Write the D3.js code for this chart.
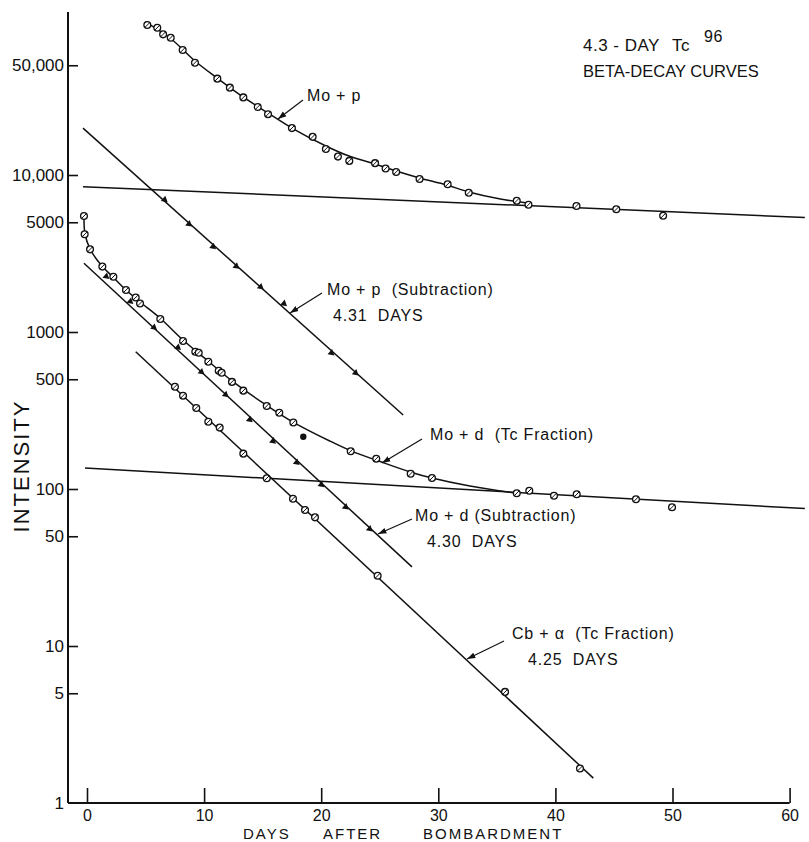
<!DOCTYPE html>
<html>
<head>
<meta charset="utf-8">
<script src="https://cdn.jsdelivr.net/npm/d3@7"></script>
<style>
  body { margin: 0; background: #fff; }
  svg { display: block; }
  text { font-family: "Liberation Sans", "DejaVu Sans", sans-serif; fill: #111; }
</style>
</head>
<body>
<div id="chart"></div>
<script>
// ---- data (days after bombardment, intensity) ----
const yTickValues = [1, 5, 10, 50, 100, 500, 1000, 5000, 10000, 50000];
const yTickLabels = ['1', '5', '10', '50', '100', '500', '1000', '5000', '10,000', '50,000'];
const xTickValues = [0, 10, 20, 30, 40, 50, 60];

// Mo + p (total)
const moPDays = [5.15, 6.0, 6.5, 7.15, 8.17, 9.22, 11.13, 12.2, 13.35, 14.58, 15.46, 17.5, 19.27, 20.4, 21.43, 22.4, 24.6, 25.5, 26.4, 28.4, 30.8, 32.6, 36.7, 37.7, 41.8, 45.2, 49.2];
const moPVals = [90200, 86700, 78700, 74900, 62500, 51900, 41100, 36000, 31200, 27100, 24400, 19900, 17500, 14650, 13100, 12300, 11900, 11000, 10450, 9430, 8730, 7710, 6860, 6470, 6350, 6050, 5500];
const moPCurveDays = [4.95, 7.09, 9.22, 11.1, 13.32, 15.46, 17.5, 20.4, 22.37, 24.6, 26.4, 28.4, 30.7, 32.6, 35.3, 37.6];
const moPCurveVals = [94400, 74600, 53200, 41500, 31400, 24800, 19900, 15300, 13200, 11750, 10600, 9570, 8640, 7800, 7030, 6630];
const moPLongDays = [-0.34, 61.3];
const moPLongVals = [8420, 5360];

// Mo + p (subtraction) 4.31 days
const moPSubLineDays = [-0.34, 27.0];
const moPSubLineVals = [19900, 296];
const moPSubDays = [6.66, 8.74, 10.79, 12.78, 14.86, 16.85, 20.9, 22.97];
const moPSubVals = [6930, 4850, 3480, 2610, 1930, 1510, 732, 546];

// Mo + d (Tc fraction)
const moDDays = [-0.26, -0.2, 0.26, 1.31, 2.25, 3.33, 4.16, 4.53, 6.26, 8.2, 9.25, 9.54, 10.36, 11.25, 11.5, 12.38, 13.35, 15.35, 16.42, 17.62, 22.52, 24.7, 27.64, 29.46, 36.7, 37.77, 39.88, 41.82, 46.88, 49.96];
const moDVals = [5480, 4190, 3360, 2610, 2250, 1850, 1660, 1520, 1210, 876, 749, 738, 647, 567, 550, 481, 423, 338, 306, 265, 174, 156, 125, 117.5, 94, 97.5, 90.6, 92.5, 86, 76.5];
const moDOutlierDays = [18.47];
const moDOutlierVals = [215];
const moDCurveDays = [-0.26, -0.17, 0.26, 1.2, 2.22, 3.33, 4.53, 6.23, 8.2, 10.33, 12.38, 15.29, 17.59, 20.75, 22.55, 25.1, 27.67, 29.46, 32.7, 36.6];
const moDCurveVals = [5480, 4210, 3380, 2670, 2240, 1852, 1553, 1228, 889, 654, 488, 343, 267, 202, 175, 149, 128, 117.5, 104.5, 94.3];
const moDLongDays = [-0.17, 61.3];
const moDLongVals = [136, 75];

// Mo + d (subtraction) 4.30 days
const moDSubLineDays = [-0.26, 27.75];
const moDSubLineVals = [2740, 31.9];
const moDSubDays = [1.68, 3.73, 5.75, 7.8, 9.8, 11.87, 13.92, 15.91, 17.93, 20.04, 22.12, 24.17];
const moDSubVals = [2250, 1560, 1065, 794, 554, 397, 275, 201, 147, 106, 76.4, 55.4];

// Cb + alpha (Tc fraction) 4.25 days
const cbLineDays = [4.16, 43.24];
const cbLineVals = [749, 1.44];
const cbDays = [7.51, 8.2, 9.33, 10.36, 11.33, 13.35, 15.35, 17.59, 18.62, 19.47, 24.82, 35.7, 42.1];
const cbVals = [448, 393, 328, 268, 246, 168, 117, 86.7, 73.5, 66, 28, 5.1, 1.66];

const zip = (a, b) => a.map((d, i) => [d, b[i]]);

// ---- layout ----
const width = 809, height = 842;
const axisX = 68, axisY = 803;

const svg = d3.select('#chart').append('svg')
  .attr('width', width)
  .attr('height', height);

const x = d3.scaleLinear().domain([0, 60]).range([87, 789.6]);
const y = d3.scaleLog().domain([1, 100000]).range([803, 18]);

const ink = '#111';

// axes lines
svg.append('line')
  .attr('x1', axisX).attr('x2', axisX)
  .attr('y1', 12).attr('y2', axisY)
  .attr('stroke', ink).attr('stroke-width', 2);
svg.append('line')
  .attr('x1', axisX).attr('x2', x(60))
  .attr('y1', axisY).attr('y2', axisY)
  .attr('stroke', ink).attr('stroke-width', 2);

const yAxis = svg.append('g')
  .attr('transform', `translate(${axisX},0)`)
  .call(d3.axisLeft(y)
    .tickValues(yTickValues)
    .tickFormat((d, i) => yTickLabels[i])
    .tickSizeInner(-10)
    .tickSizeOuter(0)
    .tickPadding(4));
yAxis.select('.domain').remove();
yAxis.selectAll('.tick line').attr('stroke', ink).attr('stroke-width', 1.6);
yAxis.selectAll('.tick').filter(d => d === 1).select('line').remove();
yAxis.selectAll('.tick text')
  .attr('font-size', 17)
  .attr('font-family', '"Liberation Sans", sans-serif')
  .attr('fill', ink);

const xAxis = svg.append('g')
  .attr('transform', `translate(0,${axisY})`)
  .call(d3.axisBottom(x)
    .tickValues(xTickValues)
    .tickSizeInner(-15)
    .tickSizeOuter(0)
    .tickPadding(7));
xAxis.select('.domain').remove();
xAxis.selectAll('.tick line').attr('stroke', ink).attr('stroke-width', 1.6);
xAxis.selectAll('.tick text')
  .attr('font-size', 16)
  .attr('font-family', '"Liberation Sans", sans-serif')
  .attr('fill', ink);

// axis titles
svg.append('text')
  .attr('transform', 'translate(29,466) rotate(-90)')
  .attr('text-anchor', 'middle')
  .attr('font-size', 22)
  .attr('letter-spacing', 2)
  .text('INTENSITY');

const xTitle = svg.append('text')
  .attr('y', 839)
  .attr('font-size', 15)
  .attr('letter-spacing', 2);
xTitle.append('tspan').attr('x', 243).text('DAYS');
xTitle.append('tspan').attr('x', 323).text('AFTER');
xTitle.append('tspan').attr('x', 423).text('BOMBARDMENT');

// title
const t1 = svg.append('text').attr('y', 51).attr('font-size', 17).attr('letter-spacing', 0.5);
t1.append('tspan').attr('x', 583).text('4.3 - DAY');
t1.append('tspan').attr('x', 672).text('Tc');
t1.append('tspan').attr('x', 704).attr('dy', -9).attr('font-size', 16).text('96');
svg.append('text').attr('x', 583).attr('y', 77).attr('font-size', 16.5)
  .text('BETA-DECAY CURVES');

// ---- lines and curves ----
const straight = d3.line().x(d => x(d[0])).y(d => y(d[1]));
const smooth = d3.line().x(d => x(d[0])).y(d => y(d[1])).curve(d3.curveCatmullRom.alpha(0.5));

const lineData = [
  { pts: zip(moPLongDays, moPLongVals), gen: straight },
  { pts: zip(moPSubLineDays, moPSubLineVals), gen: straight },
  { pts: zip(moPCurveDays, moPCurveVals), gen: smooth },
  { pts: zip(moDLongDays, moDLongVals), gen: straight },
  { pts: zip(moDSubLineDays, moDSubLineVals), gen: straight },
  { pts: zip(moDCurveDays, moDCurveVals), gen: smooth },
  { pts: zip(cbLineDays, cbLineVals), gen: straight }
];

svg.append('g').selectAll('path')
  .data(lineData)
  .join('path')
  .attr('d', d => d.gen(d.pts))
  .attr('fill', 'none')
  .attr('stroke', ink)
  .attr('stroke-width', 1.5);

// ---- markers ----
function slashedCircles(pts) {
  const g = svg.append('g').selectAll('g')
    .data(pts)
    .join('g')
    .attr('transform', d => `translate(${x(d[0])},${y(d[1])})`);
  g.append('circle')
    .attr('r', 3.4)
    .attr('fill', '#fff')
    .attr('stroke', ink)
    .attr('stroke-width', 1.3);
  g.append('line')
    .attr('x1', -2.3).attr('y1', 2.3)
    .attr('x2', 2.3).attr('y2', -2.3)
    .attr('stroke', ink)
    .attr('stroke-width', 1);
}

function triangles(pts) {
  svg.append('g').selectAll('path')
    .data(pts)
    .join('path')
    .attr('transform', d => `translate(${x(d[0])},${y(d[1])}) rotate(40)`)
    .attr('d', 'M-2.5,-3.5L3.5,0L-2.5,3.5Z')
    .attr('fill', ink);
}

slashedCircles(zip(moPDays, moPVals));
slashedCircles(zip(moDDays, moDVals));
slashedCircles(zip(cbDays, cbVals));
triangles(zip(moPSubDays, moPSubVals));
triangles(zip(moDSubDays, moDSubVals));

svg.append('g').selectAll('circle')
  .data(zip(moDOutlierDays, moDOutlierVals))
  .join('circle')
  .attr('cx', d => x(d[0]))
  .attr('cy', d => y(d[1]))
  .attr('r', 3.2)
  .attr('fill', ink);

// ---- annotations (label text, arrow from label to curve) ----
const notes = [
  { lines: ['Mo + p'], tx: 307, ty: 101, from: [303, 100], to: [278, 119] },
  { lines: ['Mo + p  (Subtraction)', '4.31  DAYS'], tx: 327, ty: 295, dx2: 6, from: [322, 293], to: [290, 313] },
  { lines: ['Mo + d  (Tc Fraction)'], tx: 430, ty: 440, from: [422, 439], to: [382, 463] },
  { lines: ['Mo + d (Subtraction)', '4.30  DAYS'], tx: 415, ty: 521, dx2: 12, from: [412, 519], to: [378, 534] },
  { lines: ['Cb + α  (Tc Fraction)', '4.25  DAYS'], tx: 512, ty: 639, dx2: 16, from: [504, 641], to: [467, 659] }
];

svg.append('defs').append('marker')
  .attr('id', 'arrow')
  .attr('viewBox', '0 0 10 10')
  .attr('refX', 10).attr('refY', 5)
  .attr('markerWidth', 7).attr('markerHeight', 7)
  .attr('orient', 'auto')
  .append('path')
  .attr('d', 'M0,1.5L10,5L0,8.5Z')
  .attr('fill', ink);

const ann = svg.append('g').selectAll('g').data(notes).join('g');
ann.append('line')
  .attr('x1', d => d.from[0]).attr('y1', d => d.from[1])
  .attr('x2', d => d.to[0]).attr('y2', d => d.to[1])
  .attr('stroke', ink)
  .attr('stroke-width', 1.2)
  .attr('marker-end', 'url(#arrow)');
ann.each(function (d) {
  const g = d3.select(this);
  d.lines.forEach((s, i) => {
    g.append('text')
      .attr('x', d.tx + (i ? d.dx2 : 0))
      .attr('y', d.ty + i * 26)
      .attr('font-size', 16)
      .attr('letter-spacing', 0.8)
      .style('white-space', 'pre')
      .text(s);
  });
});
</script>
</body>
</html>
